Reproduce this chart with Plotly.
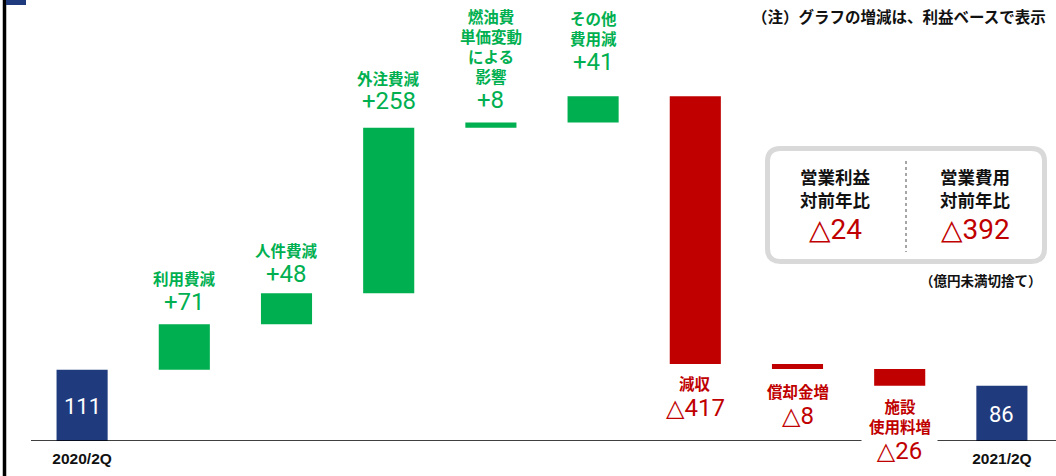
import plotly.graph_objects as go

# ---------------- data ----------------
categories = ["2020/2Q", "利用費減", "人件費減", "外注費減", "燃油費単価変動による影響",
              "その他費用減", "減収", "償却金増", "施設使用料増", "2021/2Q"]
label_lines = ["", "利用費減", "人件費減", "外注費減", "燃油費<br>単価変動<br>による<br>影響",
               "その他<br>費用減", "減収", "償却金増", "施設<br>使用料増", ""]
values = [111, 71, 48, 258, 8, 41, -417, -8, -26, 86]
tick_labels = ["2020/2Q", "2021/2Q"]
summary_titles = ["営業利益<br>対前年比", "営業費用<br>対前年比"]
summary_values = [-24, -392]
note_text = "（注）グラフの増減は、利益ベースで表示"
unit_text = "（億円未満切捨て）"

# ---------------- styles / layout ----------------
NAVY = "#1F3A7D"
GREEN = "#00B050"
RED = "#C00000"
JP = "Noto Sans CJK JP, sans-serif"
NUM = "Liberation Sans Narrow, Arial Narrow, Roboto, sans-serif"
TRI = "<span style='font-family:DejaVu Sans'>△</span>"

W, H = 1056, 476
ML, MR, MT, MB = 31, 3, 0, 35
PW, PH = W - ML - MR, H - MT - MB
PX_PER_UNIT = 0.642
YMAX = PH / PX_PER_UNIT


def px_x(p):
    return (p - ML) / PW


def px_y(p):
    return (H - MB - p) / PH


# waterfall bases
bases, heights, colors = [], [], []
running = 0
for i, v in enumerate(values):
    if i == 0 or i == len(values) - 1:
        bases.append(0)
        heights.append(v)
        colors.append(NAVY)
        running = v
    else:
        if v >= 0:
            bases.append(running)
            heights.append(v)
            colors.append(GREEN)
        else:
            bases.append(running + v)
            heights.append(-v)
            colors.append(RED)
        running += v

fig = go.Figure()
fig.add_trace(go.Bar(
    x=categories, y=heights, base=bases, width=0.5,
    marker=dict(color=colors, line=dict(width=0)),
    hoverinfo="skip", showlegend=False,
))

annotations = []
# label shifts (px) for name and number, relative to bar top (gain) or bottom (loss)
name_shift = [0, 46, 43, 50, 77, 68, -19, -22, -30, 0]
num_shift = [0, 22, 19, 27, 23, 34, -44, -47, -65, 0]

for i, v in enumerate(values):
    if i == 0 or i == len(values) - 1:
        annotations.append(dict(
            x=categories[i], y=v / 2, xref="x", yref="y", text=str(v),
            showarrow=False, font=dict(family=NUM, size=22, color="white"),
            yanchor="middle", yshift=-1))
        continue
    if v >= 0:
        anchor_y = bases[i] + heights[i]
        col = GREEN
        num_txt = "+" + str(v)
    else:
        anchor_y = bases[i]
        col = RED
        num_txt = TRI + str(-v)
    num_ann = dict(
        x=categories[i], y=anchor_y, xref="x", yref="y", text=num_txt,
        showarrow=False, font=dict(family=NUM, size=24, color=col),
        yanchor="middle", yshift=num_shift[i])
    if i == 8:
        num_ann.update(bgcolor="white", width=75, borderpad=0)
    annotations.append(num_ann)
    annotations.append(dict(
        x=categories[i], y=anchor_y, xref="x", yref="y",
        text="<b>" + label_lines[i] + "</b>",
        showarrow=False, font=dict(family=JP, size=15.5, color=col),
        yanchor="middle", yshift=name_shift[i]))

# top note
annotations.append(dict(
    x=px_x(1048), y=px_y(15.5), xref="paper", yref="paper",
    text="<b>" + note_text + "</b>", showarrow=False, xanchor="right",
    yanchor="middle", font=dict(family=JP, size=15.5, color="#111111")))

# summary box texts
col_x = [835, 975]
for cx, t, sv in zip(col_x, summary_titles, summary_values):
    annotations.append(dict(
        x=px_x(cx), y=px_y(188.5), xref="paper", yref="paper",
        text="<b>" + t + "</b>", showarrow=False, xanchor="center", yanchor="middle",
        font=dict(family=JP, size=17.5, color="#111111")))
    annotations.append(dict(
        x=px_x(cx), y=px_y(229), xref="paper", yref="paper",
        text=TRI + str(abs(sv)),
        showarrow=False, xanchor="center", yanchor="middle",
        font=dict(family=NUM, size=28, color=RED)))

annotations.append(dict(
    x=px_x(1044), y=px_y(280), xref="paper", yref="paper",
    text="<b>" + unit_text + "</b>", showarrow=False, xanchor="right",
    yanchor="middle", font=dict(family=JP, size=13.5, color="#111111")))

# shapes
shapes = []
# baseline
shapes.append(dict(type="line", xref="paper", yref="y", x0=0, x1=px_x(1056),
                   y0=0, y1=0, line=dict(color="black", width=1.6), layer="above"))
# left slide border + navy tab
shapes.append(dict(type="line", xref="paper", yref="paper", x0=px_x(4.5), x1=px_x(4.5),
                   y0=px_y(0), y1=px_y(476), line=dict(color="black", width=3.5)))
shapes.append(dict(type="rect", xref="paper", yref="paper", x0=px_x(6), x1=px_x(26),
                   y0=px_y(0), y1=px_y(5), fillcolor=NAVY, line=dict(width=0)))

# rounded summary box
x0p, x1p, y0p, y1p, r = 767.5, 1044.5, 148.5, 261.5, 13


def P(x, y):
    return f"{px_x(x):.5f},{px_y(y):.5f}"


path = (f"M {P(x0p + r, y0p)} L {P(x1p - r, y0p)} Q {P(x1p, y0p)} {P(x1p, y0p + r)} "
        f"L {P(x1p, y1p - r)} Q {P(x1p, y1p)} {P(x1p - r, y1p)} "
        f"L {P(x0p + r, y1p)} Q {P(x0p, y1p)} {P(x0p, y1p - r)} "
        f"L {P(x0p, y0p + r)} Q {P(x0p, y0p)} {P(x0p + r, y0p)} Z")
shapes.append(dict(type="path", xref="paper", yref="paper", path=path,
                   line=dict(color="#D9D9D9", width=5), fillcolor="rgba(0,0,0,0)"))
shapes.append(dict(type="line", xref="paper", yref="paper", x0=px_x(906), x1=px_x(906),
                   y0=px_y(161), y1=px_y(252),
                   line=dict(color="#A6A6A6", width=2, dash="dot")))

fig.update_layout(
    width=W, height=H,
    margin=dict(l=ML, r=MR, t=MT, b=MB),
    paper_bgcolor="white", plot_bgcolor="white",
    bargap=0.5,
    xaxis=dict(type="category", categoryorder="array", categoryarray=categories,
               range=[-0.5, len(categories) - 0.5], showgrid=False, zeroline=False,
               showline=False, ticks="", tickvals=[categories[0], categories[-1]],
               ticktext=["<b>" + t + "</b>" for t in tick_labels],
               tickfont=dict(family="Liberation Sans, Arial, sans-serif", size=15.5,
                             color="#111111"),
               ticklabelstandoff=6),
    yaxis=dict(range=[0, YMAX], visible=False, fixedrange=True),
    annotations=annotations,
    shapes=shapes,
    showlegend=False,
)

fig.write_html("out.html")
